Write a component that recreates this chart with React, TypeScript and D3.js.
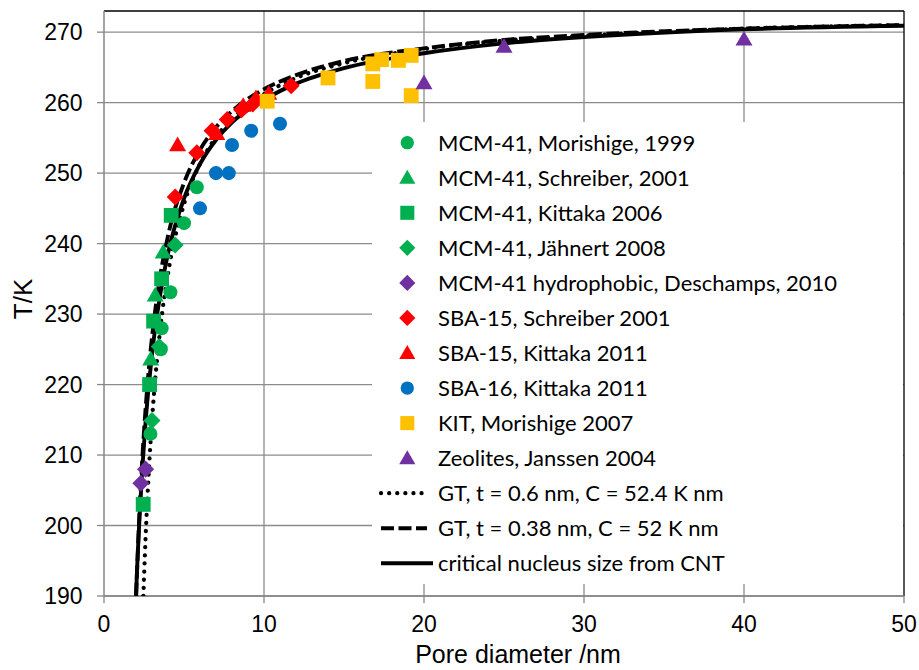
import React from "react";
import * as d3 from "d3";

// ---------- data ----------
const mcm41Morishige1999: [number, number][] = [
  [5.8, 248.0], [5.0, 242.9], [4.15, 233.1], [3.6, 228.0], [3.55, 225.0], [2.9, 213.0],
];
const mcm41Schreiber2001: [number, number][] = [
  [3.7, 238.8], [3.2, 232.7], [2.92, 223.6],
];
const mcm41Kittaka2006: [number, number][] = [
  [4.2, 244.0], [3.6, 235.0], [3.1, 229.0], [2.85, 220.0], [2.45, 203.0],
];
const mcm41Jahnert2008: [number, number][] = [
  [4.45, 239.8], [3.45, 225.4], [3.0, 214.9],
];
const mcm41Hydrophobic2010: [number, number][] = [
  [2.6, 208.0], [2.3, 206.0],
];
const sba15Schreiber2001: [number, number][] = [
  [4.45, 246.6], [5.8, 252.9], [6.75, 256.0], [7.7, 257.6], [8.6, 259.0], [9.3, 259.8], [11.7, 262.4],
];
const sba15Kittaka2011: [number, number][] = [
  [4.6, 254.0], [7.05, 255.6], [8.7, 259.6], [9.5, 260.7], [10.3, 261.3],
];
const sba16Kittaka2011: [number, number][] = [
  [6.0, 245.0], [7.0, 250.0], [7.8, 250.0], [8.0, 254.0], [9.2, 256.0], [11.0, 257.0],
];
const kitMorishige2007: [number, number][] = [
  [10.2, 260.2], [14.0, 263.5], [16.8, 265.5], [16.8, 263.0], [17.35, 266.1], [18.4, 266.0], [19.2, 266.7], [19.2, 261.0],
];
const zeolitesJanssen2004: [number, number][] = [
  [20.0, 262.8], [25.0, 268.0], [40.0, 269.0],
];

const gtDotted: [number, number][] = [
  [2.46, 190.0], [2.5, 192.5], [2.6, 198.3], [2.8, 207.7], [3.0, 214.9], [3.5, 227.6], [4, 235.7],
  [5, 245.6], [6, 251.3], [7, 255.1], [8, 257.7], [10, 261.2], [12, 263.5], [15, 265.6],
  [20, 267.6], [25, 268.8], [30, 269.5], [40, 270.5], [50, 271.0],
];
const gtDashed: [number, number][] = [
  [2.01, 190.0], [2.05, 192.5], [2.1, 195.5], [2.2, 200.9], [2.4, 209.7], [2.6, 216.6], [2.8, 222.2],
  [3.0, 226.7], [3.5, 235.2], [4, 241.1], [5, 248.6], [6, 253.3], [7, 256.5], [8, 258.8],
  [10, 261.9], [12, 263.9], [15, 265.9], [20, 267.7], [25, 268.9], [30, 269.6], [40, 270.5], [50, 271.0],
];
const cntSolid: [number, number][] = [
  [2.0, 190.1], [2.05, 192.9], [2.1, 195.5], [2.2, 200.3], [2.4, 208.3], [2.6, 214.7], [2.8, 219.9],
  [3.0, 224.3], [3.5, 232.6], [4, 238.6], [5, 246.4], [6, 251.3], [7, 254.7], [8, 257.2],
  [10, 260.4], [12, 262.7], [15, 264.9], [20, 267.0], [25, 268.4], [30, 269.3], [40, 270.4], [50, 270.9],
];

const xTicks = [0, 10, 20, 30, 40, 50];
const yTicks = [190, 200, 210, 220, 230, 240, 250, 260, 270];

const legendLabels = [
  "MCM-41, Morishige, 1999",
  "MCM-41, Schreiber, 2001",
  "MCM-41, Kittaka 2006",
  "MCM-41, Jähnert 2008",
  "MCM-41 hydrophobic, Deschamps, 2010",
  "SBA-15, Schreiber 2001",
  "SBA-15, Kittaka 2011",
  "SBA-16, Kittaka 2011",
  "KIT, Morishige 2007",
  "Zeolites, Janssen 2004",
  "GT, t = 0.6 nm, C = 52.4 K nm",
  "GT, t = 0.38 nm, C = 52 K nm",
  "critical nucleus size from CNT",
];

// ---------- style ----------
const GREEN = "#00B050";
const RED = "#FF0000";
const BLUE = "#0070C0";
const YELLOW = "#FFC000";
const PURPLE = "#7030A0";

type Shape = "circle" | "triangle" | "square" | "diamond";
const seriesList: { data: [number, number][]; shape: Shape; color: string }[] = [
  { data: mcm41Morishige1999, shape: "circle", color: GREEN },
  { data: mcm41Schreiber2001, shape: "triangle", color: GREEN },
  { data: mcm41Kittaka2006, shape: "square", color: GREEN },
  { data: mcm41Jahnert2008, shape: "diamond", color: GREEN },
  { data: mcm41Hydrophobic2010, shape: "diamond", color: PURPLE },
  { data: sba15Schreiber2001, shape: "diamond", color: RED },
  { data: sba15Kittaka2011, shape: "triangle", color: RED },
  { data: sba16Kittaka2011, shape: "circle", color: BLUE },
  { data: kitMorishige2007, shape: "square", color: YELLOW },
  { data: zeolitesJanssen2004, shape: "triangle", color: PURPLE },
];
const lineList = [
  { data: gtDotted, dash: "0.1,8", width: 4.2, cap: "round" },
  { data: gtDashed, dash: "13,4.5", width: 3.9, cap: "butt" },
  { data: cntSolid, dash: "", width: 3.9, cap: "butt" },
];

const W = 919;
const H = 670;
const L = 104, R = 904, T = 11, B = 596;

function symbolPath(shape: Shape, scale: number) {
  if (shape === "circle") return d3.symbol(d3.symbolCircle, 155 * scale)()!;
  if (shape === "square") return d3.symbol(d3.symbolSquare, 220 * scale)()!;
  if (shape === "triangle") return d3.symbol(d3.symbolTriangle, 125 * scale)()!;
  return d3.symbol(d3.symbolSquare, 145 * scale)()!;
}

function Marker({ shape, color, x, y, scale = 1 }: { shape: Shape; color: string; x: number; y: number; scale?: number }) {
  const rot = shape === "diamond" ? " rotate(45)" : "";
  const dy = shape === "triangle" ? 1.5 * Math.sqrt(scale) : 0;
  return <path d={symbolPath(shape, scale)} transform={`translate(${x},${y + dy})${rot}`} fill={color} />;
}

export default function App() {
  const x = d3.scaleLinear().domain([0, 50]).range([L, R]);
  const y = d3.scaleLinear().domain([190, 273]).range([B, T]);
  const line = d3.line<[number, number]>().x((d) => x(d[0])).y((d) => y(d[1])).curve(d3.curveMonotoneX);

  const legX = 438;
  const legY0 = 142.7;
  const legDy = 35.05;
  const tickFont = "'Liberation Sans', Arial, sans-serif";
  const legFont = "Lato, 'Open Sans', sans-serif";

  return (
    <div style={{ position: "absolute", left: 0, top: 0 }}>
      <svg width={W} height={H} style={{ display: "block", background: "#fff" }}>
        <rect x={0} y={0} width={W} height={H} fill="#fff" />
        <defs>
          <clipPath id="plotClip">
            <rect x={L} y={T} width={R - L} height={B - T} />
          </clipPath>
        </defs>
        {/* gridlines */}
        {yTicks.map((t) => (
          <line key={"gy" + t} x1={L} x2={R} y1={y(t)} y2={y(t)} stroke="#8c8c8c" strokeWidth={1.3} />
        ))}
        {xTicks.filter((t) => t > 0 && t < 50).map((t) => (
          <line key={"gx" + t} x1={x(t)} x2={x(t)} y1={T} y2={B} stroke="#8c8c8c" strokeWidth={1.3} />
        ))}
        {/* legend background */}
        <rect x={372} y={122} width={R - 372 - 1} height={462} fill="#fff" />
        {/* frame */}
        <line x1={L} x2={R} y1={T} y2={T} stroke="#000" strokeWidth={1.3} />
        <line x1={R} x2={R} y1={T} y2={B} stroke="#000" strokeWidth={1.3} />
        <line x1={L} x2={L} y1={T} y2={B} stroke="#868686" strokeWidth={1.5} />
        <line x1={L} x2={R} y1={B} y2={B} stroke="#868686" strokeWidth={1.5} />
        {yTicks.map((t) => (
          <line key={"ty" + t} x1={L - 7} x2={L} y1={y(t)} y2={y(t)} stroke="#868686" strokeWidth={1.3} />
        ))}
        {xTicks.map((t) => (
          <line key={"tx" + t} x1={x(t)} x2={x(t)} y1={B} y2={B + 7} stroke="#868686" strokeWidth={1.3} />
        ))}
        {/* tick labels */}
        {yTicks.map((t) => (
          <text key={"ly" + t} x={82.5} y={y(t)} dy="0.36em" textAnchor="end" fontFamily={tickFont} fontSize={23} fill="#000">
            {t}
          </text>
        ))}
        {xTicks.map((t) => (
          <text key={"lx" + t} x={x(t)} y={632} textAnchor="middle" fontFamily={tickFont} fontSize={23} fill="#000">
            {t}
          </text>
        ))}
        <text x={518} y={663} textAnchor="middle" fontFamily={tickFont} fontSize={25} fill="#000">
          Pore diameter /nm
        </text>
        <text transform={`translate(32,299) rotate(-90)`} textAnchor="middle" fontFamily={tickFont} fontSize={26} fill="#000">
          T/K
        </text>
        {/* curves */}
        <g clipPath="url(#plotClip)">
          {lineList.map((l, i) => (
            <path
              key={"c" + i}
              d={line(l.data)!}
              fill="none"
              stroke="#000"
              strokeWidth={l.width}
              strokeDasharray={l.dash || undefined}
              strokeLinecap={l.cap as any}
            />
          ))}
        </g>
        {/* markers */}
        {seriesList.map((s, i) => (
          <g key={"s" + i}>
            {s.data.map((d, j) => (
              <Marker key={j} shape={s.shape} color={s.color} x={x(d[0])} y={y(d[1])} />
            ))}
          </g>
        ))}
        {/* legend */}
        {legendLabels.map((lab, i) => {
          const cy = legY0 + i * legDy;
          let sym: React.ReactNode = null;
          if (i < seriesList.length) {
            const s = seriesList[i];
            sym = <Marker shape={s.shape} color={s.color} x={407.3} y={cy} scale={0.9} />;
          } else {
            const l = lineList[i - seriesList.length];
            const x2 = l.dash === "" ? 433 : l.cap === "round" ? 429 : 427;
            sym = (
              <line
                x1={381}
                x2={x2}
                y1={cy}
                y2={cy}
                stroke="#000"
                strokeWidth={l.width}
                strokeDasharray={l.dash || undefined}
                strokeLinecap={l.cap as any}
              />
            );
          }
          return (
            <g key={"lg" + i}>
              {sym}
              <text x={legX} y={cy} dy="0.36em" fontFamily={legFont} fontSize={22} fill="#000">
                {lab}
              </text>
            </g>
          );
        })}
      </svg>
    </div>
  );
}
